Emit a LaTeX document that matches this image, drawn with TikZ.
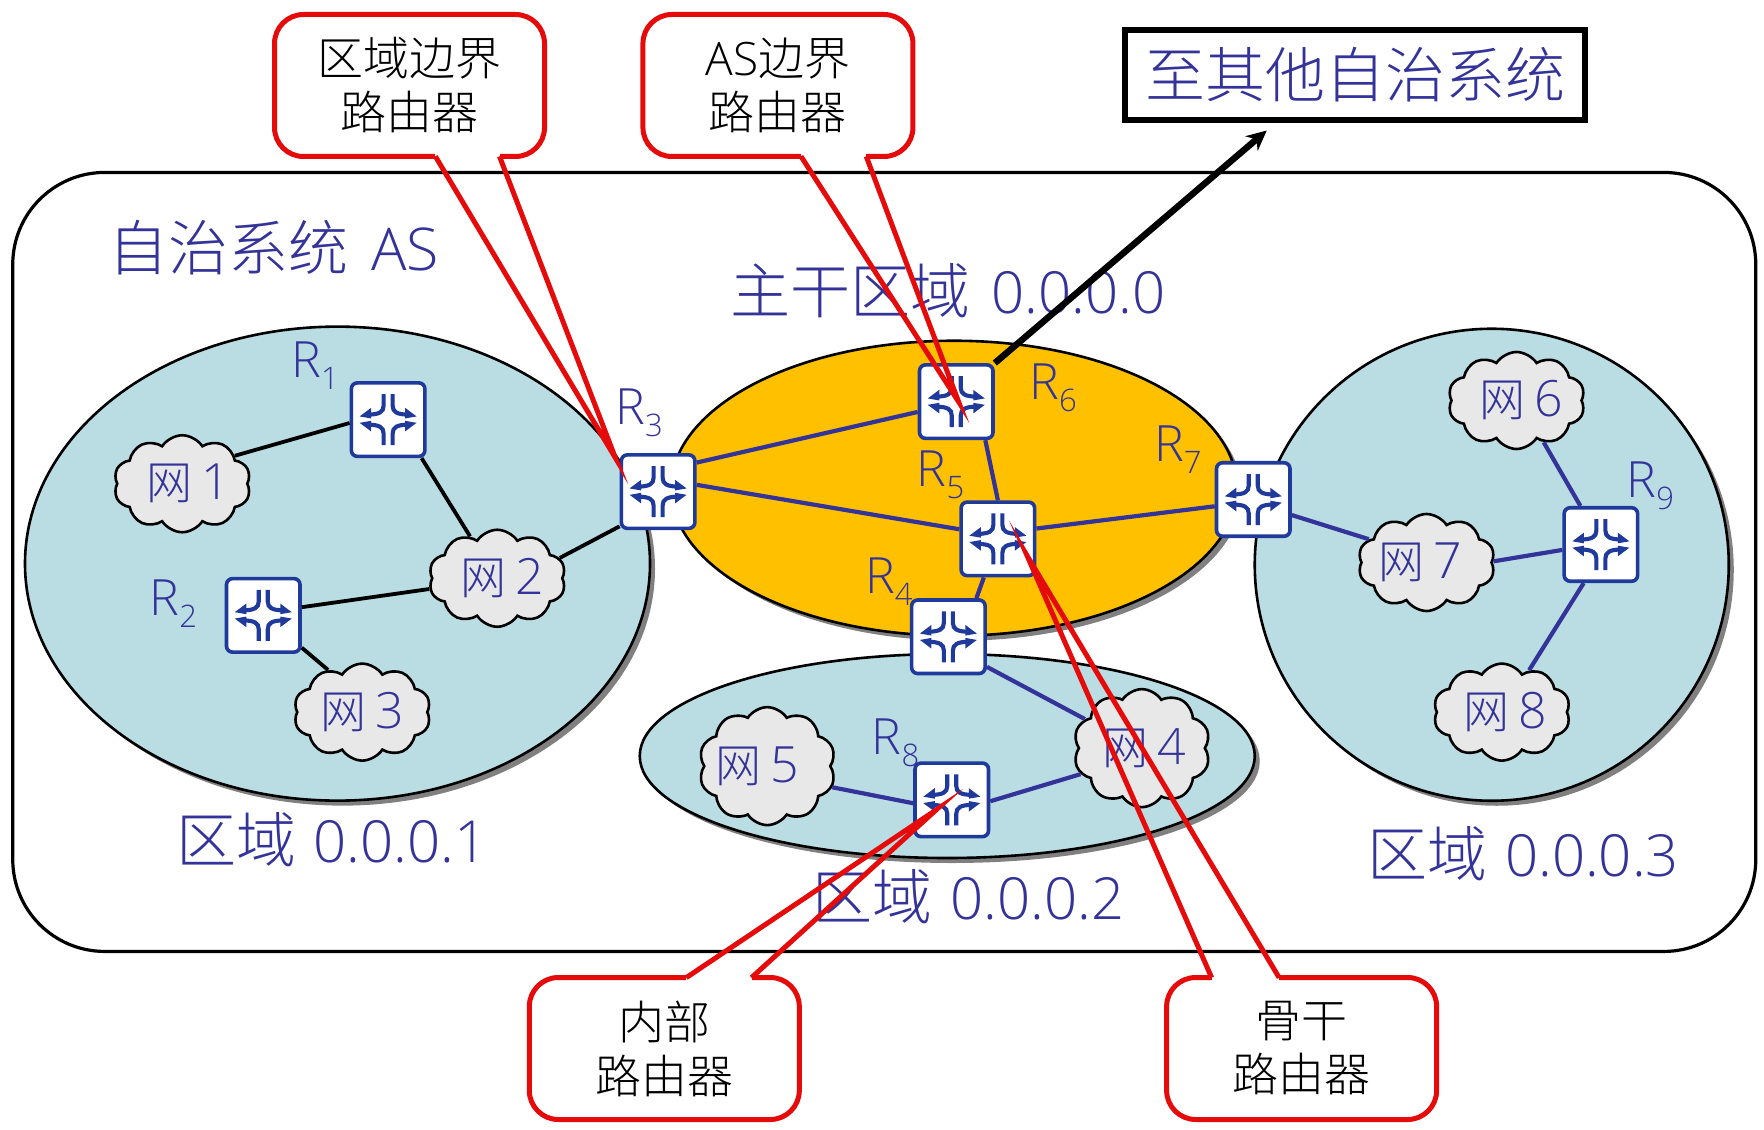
\documentclass[tikz,border=0pt]{standalone}
\usepackage{fontspec}
\usetikzlibrary{shapes.geometric,shapes.symbols,shadows,arrows.meta}
\IfFontExistsTF{Noto Sans CJK SC Light}{\setmainfont{Noto Sans CJK SC Light}}{\setmainfont{Noto Sans CJK SC}}
\IfFontExistsTF{Open Sans Light}{\newfontfamily\lat{Open Sans Light}}{\newfontfamily\lat{Open Sans}}
\definecolor{txtblue}{HTML}{333399}
\definecolor{rtblue}{HTML}{1F3A9A}
\definecolor{areateal}{HTML}{B9DDE3}
\definecolor{backbone}{HTML}{FFC000}
\definecolor{cloudgray}{HTML}{E8E8E8}
\definecolor{callred}{HTML}{E60B0B}
\newcommand\fsz[1]{\fontsize{#1}{#1}\selectfont}
\newcommand\Rsub[1]{{\lat\fsz{50}R\raisebox{-0.24em}{\fsz{31}#1}}}
\newcommand\biglat[1]{{\lat\fsz{58}#1}}
\newcommand\netlabel[2]{\makebox[0pt][c]{\hspace*{#1pt}网\hspace{9pt}{\lat\fsz{50}#2}}}
\newcommand\iconquarter[3]{%
  \begin{scope}[shift={(#1.center)},xscale=#2,yscale=#3,x=1pt,y=1pt]
    \draw[rtblue,line width=4.1pt] (4.5,25.5) -- (4.5,14) .. controls (4.5,7.5) and (9,5.2) .. (20,5);
    \fill[rtblue] (28.5,3.2) -- (17,1.2) -- (17,11.8) -- cycle;
  \end{scope}}
\newcommand\routericon[1]{\iconquarter{#1}{1}{1}\iconquarter{#1}{-1}{1}\iconquarter{#1}{1}{-1}\iconquarter{#1}{-1}{-1}}
\tikzset{
  x=1.125pt,y=-1.125pt,
  area/.style={ellipse,draw=black,line width=2.6pt,inner sep=0pt,drop shadow={shadow xshift=5pt,shadow yshift=-5pt,fill=black!50,opacity=1}},
  routerbox/.style={draw=rtblue,fill=white,line width=3.6pt,rounded corners=6pt,minimum size=73.5pt,inner sep=0pt},
  netcloud/.style={cloud,cloud puffs=10,cloud puff arc=115,aspect=1.45,draw=black,fill=cloudgray,line width=2.6pt,inner sep=0pt,minimum width=137pt,minimum height=97pt,text=txtblue,font=\fsz{46}},
  blacklink/.style={draw=black,line width=3.8pt},
  bluelink/.style={draw=txtblue,line width=4.2pt},
  callbox/.style={draw=callred,fill=white,line width=5pt,rounded corners=29pt,minimum width=270pt,minimum height=142pt,inner sep=0pt,align=center,text=black,font=\fsz{46}},
  calltail/.style={draw=callred,line width=5pt,miter limit=30},
  gapcover/.style={draw=white,line width=6.4pt},
  bigtext/.style={text=txtblue,font=\fsz{60},inner sep=0pt},
  rlabel/.style={text=txtblue,inner sep=0pt},
}
\begin{document}
\begin{tikzpicture}
\useasboundingbox (0,0) rectangle (1568,1004.44);
% AS
\node[draw=black,line width=3.2pt,rounded corners=92pt,minimum width=1743pt,minimum height=779pt,inner sep=0pt] (as) at (786,499.5) {};
% areas
\node[area,fill=areateal,minimum width=625pt,minimum height=474pt] (a1) at (300,501) {};
\node[area,fill=areateal,minimum width=474pt,minimum height=472pt] (a3) at (1326,502) {};
\node[area,fill=backbone,minimum width=566pt,minimum height=295pt] (a0) at (848,434) {};
\node[area,fill=areateal,minimum width=615pt,minimum height=204pt] (a2) at (842,672) {};
% clouds
\node[netcloud] (n1) at (162,430) {\netlabel{12}{1}};
\node[netcloud] (n2) at (442,514) {\netlabel{11}{2}};
\node[netcloud] (n3) at (322,633) {\netlabel{0}{3}};
\node[netcloud,minimum height=118pt] (n4) at (1015,665) {\netlabel{4}{4}};
\node[netcloud,minimum height=118pt] (n5) at (682,681) {\netlabel{-20}{5}};
\node[netcloud] (n6) at (1348,356) {\netlabel{9}{6}};
\node[netcloud] (n7) at (1268,500) {\netlabel{-13}{7}};
\node[netcloud] (n8) at (1335,633) {\netlabel{7}{8}};
% routers
\node[routerbox] (r1) at (345,373) {};
\node[routerbox] (r2) at (234,547) {};
\node[routerbox] (r3) at (585,437) {};
\node[routerbox] (r4) at (843,566) {};
\node[routerbox] (r5) at (887,479) {};
\node[routerbox] (r6) at (850,357) {};
\node[routerbox] (r7) at (1114,444) {};
\node[routerbox] (r8) at (846,711) {};
\node[routerbox] (r9) at (1423,484) {};
\routericon{r1}\routericon{r2}\routericon{r3}\routericon{r4}\routericon{r5}\routericon{r6}\routericon{r7}\routericon{r8}\routericon{r9}
% links
\draw[blacklink] (n1.28) -- (r1.185);
\draw[blacklink] (r1.-49) -- (n2.123);
\draw[blacklink] (r2.12) -- (n2.189);
\draw[blacklink] (r2.-40) -- (n3.129);
\draw[blacklink] (n2.18) -- (r3.222);
\draw[bluelink] (r3.37) -- (r6.195);
\draw[bluelink] (r3.10) -- (r5.166);
\draw[bluelink] (r6.-53) -- (r5.90);
\draw[bluelink] (r5.15) -- (r7.190);
\draw[bluelink] (r5.250) -- (r4.54);
\draw[bluelink] (r4.-38) -- (n4.153);
\draw[bluelink] (n5.-18) -- (r8.185);
\draw[bluelink] (r8.-2) -- (n4.203);
\draw[bluelink] (r7.-22) -- (n7.158);
\draw[bluelink] (n7.1) -- (r9.188);
\draw[bluelink] (n6.-57) -- (r9.118);
\draw[bluelink] (n8.57) -- (r9.246);
% router labels
\node[rlabel] (lr1) at (280,325) {\Rsub{1}};
\node[rlabel] (lr2) at (154,537) {\Rsub{2}};
\node[rlabel] (lr3) at (568,367) {\Rsub{3}};
\node[rlabel] (lr4) at (790,517) {\Rsub{4}};
\node[rlabel] (lr5) at (836,422) {\Rsub{5}};
\node[rlabel] (lr6) at (936,345) {\Rsub{6}};
\node[rlabel] (lr7) at (1047,400) {\Rsub{7}};
\node[rlabel] (lr8) at (796,660) {\Rsub{8}};
\node[rlabel] (lr9) at (1467,432) {\Rsub{9}};
% area labels
\node[bigtext,anchor=west] (t0) at (96,220) {自治系统\hspace{23pt}{\lat\fsz{59}AS}};
\node[bigtext,anchor=west] (t1) at (649,258) {主干区域\hspace{21pt}\biglat{0.0.0.0}};
\node[bigtext,anchor=west] (t2) at (157,746) {区域\hspace{17pt}\biglat{0.0.0.1}};
\node[bigtext,anchor=west] (t3) at (722,797) {区域\hspace{18pt}\biglat{0.0.0.2}};
\node[bigtext,anchor=west] (t4) at (1215,759) {区域\hspace{18pt}\biglat{0.0.0.3}};
% external
\node[draw=black,line width=5.5pt,minimum width=460pt,minimum height=90pt,inner sep=0pt,text=txtblue,font=\fsz{60}] (ext) at (1204.5,66.5) {至其他自治系统};
\coordinate (extend) at (1126,116);
\draw[black,line width=6.5pt,-{Stealth[length=20pt,width=19pt]}] (r6.north east) -- (extend);
% callouts
\node[callbox] (c1) at (364,76) {区域边界\\[8pt]路由器};
\node[callbox] (c2) at (691.5,76) {{\lat AS}边界\\[8pt]路由器};
\node[callbox] (c3) at (590.5,932) {内部\\[8pt]路由器};
\node[callbox] (c4) at (1157,932) {骨干\\[8pt]路由器};
\coordinate (c1a) at (387,139); \coordinate (c1b) at (444,139); \coordinate (c1t) at (547,407);
\coordinate (c2a) at (712,139); \coordinate (c2b) at (770,139); \coordinate (c2t) at (852,357);
\coordinate (c3a) at (610,869); \coordinate (c3b) at (668,869); \coordinate (c3t) at (832,720);
\coordinate (c4a) at (1077,869); \coordinate (c4b) at (1137,869); \coordinate (c4t) at (913,494);
\draw[gapcover] (c1a) -- (c1b);
\draw[gapcover] (c2a) -- (c2b);
\draw[gapcover] (c3a) -- (c3b);
\draw[gapcover] (c4a) -- (c4b);
\draw[calltail] (c1a) -- (c1t) -- (c1b);
\draw[calltail] (c2a) -- (c2t) -- (c2b);
\draw[calltail] (c3a) -- (c3t) -- (c3b);
\draw[calltail] (c4a) -- (c4t) -- (c4b);
\end{tikzpicture}
\end{document}
